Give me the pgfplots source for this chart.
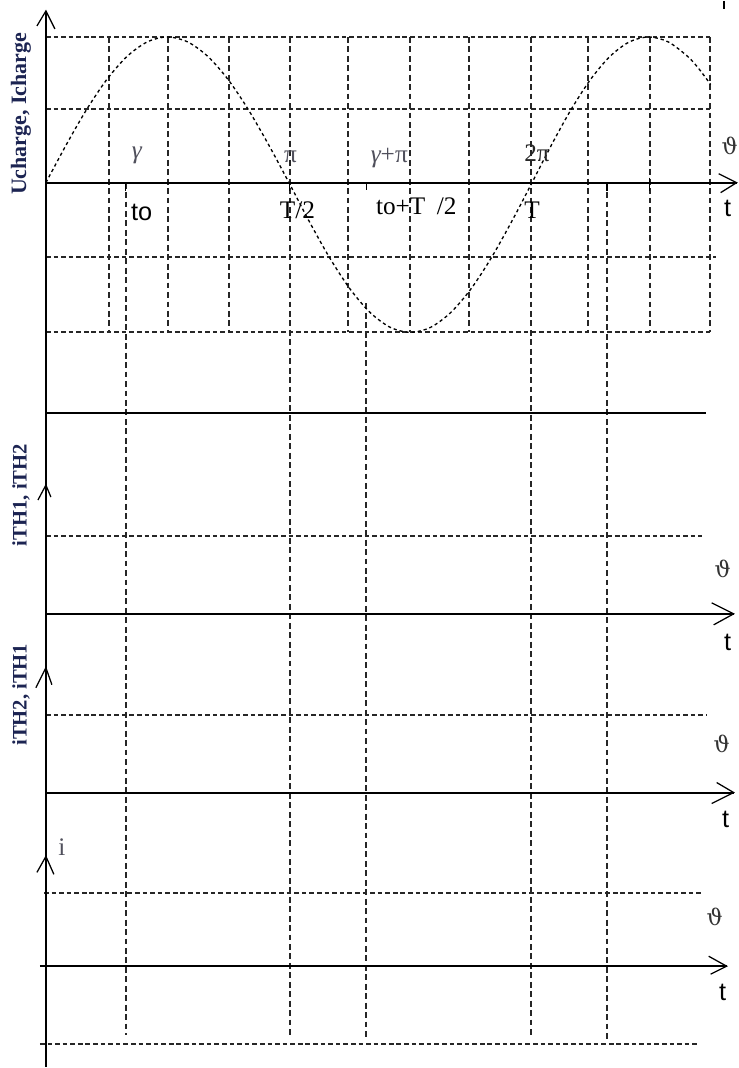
\documentclass[border=0pt]{standalone}
\usepackage{fontspec}
\setmainfont{Liberation Serif}
\newfontfamily\sansf{Liberation Sans}
\newfontfamily\thetaf{DejaVu Serif}
\usepackage{pgfplots}
\pgfplotsset{compat=1.18}
\definecolor{navy}{RGB}{28,36,82}
\definecolor{lblgray}{RGB}{80,80,92}
\pgfplotsset{
  vd/.style={black!85, line width=1.4pt, dash pattern=on 4.4pt off 2.7pt},
  hd/.style={black!85, line width=1.4pt, dash pattern=on 3.5pt off 2.2pt},
  ax/.style={black, line width=1.5pt},
  ar/.style={black, line width=0.95pt},
}
\begin{document}
\begin{tikzpicture}
\begin{axis}[
  scale only axis, width=555pt, height=801pt,
  xmin=0, xmax=740, ymin=0, ymax=1068, y dir=reverse,
  hide axis, clip=false,
  every axis plot/.append style={no marks},
]
% bounding frame (invisible)
\addplot[draw=none] coordinates {(0,0) (740,1068)};
% ---- dashed horizontal lines
\addplot[hd] coordinates {(46,36) (711,36)};
\addplot[hd] coordinates {(46,108) (711,108)};
\addplot[hd] coordinates {(46,256.5) (717,256.5)};
\addplot[hd] coordinates {(46,332) (711,332)};
\addplot[hd] coordinates {(46,536) (703,536)};
\addplot[hd] coordinates {(46,715) (708,715)};
\addplot[hd] coordinates {(44,894) (703,894)};
\addplot[hd] coordinates {(40,1045) (700,1045)};
% ---- dashed vertical lines, top panel
\addplot[vd] coordinates {(109,36) (109,332)};
\addplot[vd] coordinates {(168,36) (168,332)};
\addplot[vd] coordinates {(229,36) (229,332)};
\addplot[vd] coordinates {(349,36) (349,332)};
\addplot[vd] coordinates {(411,36) (411,332)};
\addplot[vd] coordinates {(470,36) (470,332)};
\addplot[vd] coordinates {(589,36) (589,332)};
\addplot[vd] coordinates {(651,36) (651,332)};
\addplot[vd] coordinates {(711,36) (711,332)};
% ---- long dashed vertical lines
\addplot[vd] coordinates {(290.5,36) (290.5,1036)};
\addplot[vd] coordinates {(532,36) (532,1038)};
\addplot[vd] coordinates {(126,182) (126,1036)};
\addplot[vd] coordinates {(367,303) (367,1038)};
\addplot[vd] coordinates {(608,182) (608,1043)};
% ---- solid axes
\addplot[ax] coordinates {(46,10) (46,1068)};
\addplot[ax] coordinates {(46,182) (738,182)};
\addplot[ax] coordinates {(46,413) (707,413)};
\addplot[ax] coordinates {(46,614) (735,614)};
\addplot[ax] coordinates {(46,793) (735,793)};
\addplot[ax] coordinates {(40,967) (728,967)};
\addplot[ax] coordinates {(725,0) (725,8)};
% ---- arrow heads
\addplot[ar] coordinates {(37,25) (46,10) (55,28)};
\addplot[ar] coordinates {(720,173) (738,182) (722,192)};
\addplot[ar] coordinates {(38,500) (46,485) (51,497)};
\addplot[ar] coordinates {(713,603) (735,614) (715,625)};
\addplot[ar] coordinates {(36,688) (46,668) (52,685)};
\addplot[ar] coordinates {(718,783) (735,793) (713,804)};
\addplot[ar] coordinates {(37,873) (46,857) (54,875)};
\addplot[ar] coordinates {(710,957) (728,967) (712,975)};
% ---- ticks on the top axis
\addplot[ar] coordinates {(126,182) (126,190)};
\addplot[ar] coordinates {(290,182) (290,190)};
\addplot[ar] coordinates {(367,182) (367,189)};
\addplot[ar] coordinates {(608,182) (608,190)};
\addplot[ar] coordinates {(651,177) (651,190)};
% ---- sinusoid
\addplot[black, line width=1pt, dash pattern=on 2.4pt off 2.2pt, smooth] coordinates {
(46,182) (66.3,144.2) (86.6,109) (106.9,78.8) (127.2,55.6) (147.5,41) (167.7,36)
(188,41) (208.3,55.6) (228.6,78.8) (248.9,109) (269.2,144.2) (289.5,182)
(309.8,220.8) (330.1,257) (350.4,288.1) (370.6,311.9) (390.9,326.9) (411.2,332)
(431.5,326.9) (451.8,311.9) (472.1,288.1) (492.4,257) (512.7,220.8) (533,182)
(552.5,144.2) (572,109) (591.5,78.8) (611,55.6) (630.5,41) (650,36)
(669.5,41) (689,55.6) (700,67.7) (712,83.7)};
% ---- rotated axis titles
\node[rotate=90, text=navy, inner sep=0pt, font=\fontsize{16.5}{18}\selectfont\bfseries] at (axis cs:21,113) {Ucharge, Icharge};
\node[rotate=90, text=navy, inner sep=0pt, font=\fontsize{15.5}{17}\selectfont\bfseries] at (axis cs:21,495) {iTH1, iTH2};
\node[rotate=90, text=navy, inner sep=0pt, font=\fontsize{15.5}{17}\selectfont\bfseries] at (axis cs:21,695) {iTH2, iTH1};
% ---- labels, top panel
\node[text=lblgray, inner sep=0pt, font=\fontsize{19}{21}\selectfont\itshape] at (axis cs:137,155) {γ};
\node[text=lblgray, inner sep=0pt, font=\fontsize{19}{21}\selectfont] at (axis cs:291,156) {π};
\node[text=lblgray, inner sep=0pt, font=\fontsize{19}{21}\selectfont] at (axis cs:390,157) {{\itshape γ}+π};
\node[text=black!85, inner sep=0pt, font=\fontsize{19}{21}\selectfont] at (axis cs:538,153) {2π};
\node[inner sep=0pt, font=\fontsize{19}{21}\selectfont\sansf] at (axis cs:142,212) {to};
\node[inner sep=0pt, font=\fontsize{19}{21}\selectfont] at (axis cs:298,210) {T/2};
\node[inner sep=0pt, font=\fontsize{19}{21}\selectfont] at (axis cs:417,206) {to+T\hspace{0.45em}/2};
\node[inner sep=0pt, font=\fontsize{19}{21}\selectfont] at (axis cs:533,210) {T};
% ---- theta and t labels
\node[text=black!80, inner sep=0pt, font=\fontsize{17}{19}\selectfont\thetaf] at (axis cs:731,145) {ϑ};
\node[inner sep=0pt, font=\fontsize{19}{21}\selectfont\sansf] at (axis cs:729,208) {t};
\node[text=black!80, inner sep=0pt, font=\fontsize{17}{19}\selectfont\thetaf] at (axis cs:724,569) {ϑ};
\node[inner sep=0pt, font=\fontsize{19}{21}\selectfont\sansf] at (axis cs:729,643) {t};
\node[text=black!80, inner sep=0pt, font=\fontsize{17}{19}\selectfont\thetaf] at (axis cs:723,744) {ϑ};
\node[inner sep=0pt, font=\fontsize{19}{21}\selectfont\sansf] at (axis cs:727,820) {t};
\node[text=black!80, inner sep=0pt, font=\fontsize{17}{19}\selectfont\thetaf] at (axis cs:716,918) {ϑ};
\node[inner sep=0pt, font=\fontsize{19}{21}\selectfont\sansf] at (axis cs:724,993) {t};
\node[text=lblgray, inner sep=0pt, font=\fontsize{19}{21}\selectfont] at (axis cs:62,848) {i};
\end{axis}
\end{tikzpicture}
\end{document}
